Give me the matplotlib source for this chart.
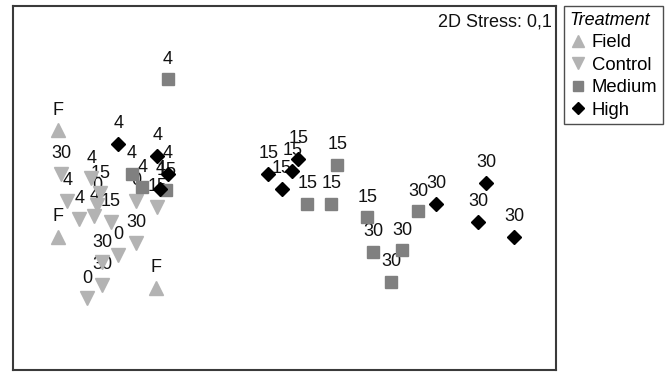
#!/usr/bin/env python3
# -*- coding: utf-8 -*-
"""
NMDS ordination of samples by treatment, labelled by sampling day.
"""

import matplotlib
matplotlib.use('Agg')
import matplotlib.pyplot as plt
from matplotlib.lines import Line2D

plt.rcParams['font.family'] = ['Liberation Sans', 'DejaVu Sans']

# NMDS scores per treatment, with the sampling day as point label
field_x = [-1.51, -1.51, -0.86]
field_y = [0.40, -0.31, -0.65]
field_lab = ['F', 'F', 'F']

control_x = [-1.49, -1.45, -1.29, -1.23, -1.25, -1.37, -1.27, -1.16,
             -0.99, -0.85, -0.99, -1.11, -1.22, -1.22, -1.32]
control_y = [0.11, -0.07, 0.08, -0.02, -0.10, -0.19, -0.17, -0.21,
             -0.07, -0.11, -0.35, -0.43, -0.48, -0.63, -0.72]
control_lab = ['30', '4', '4', '15', '0', '4', '4', '15',
               '0', '15', '30', '0', '30', '30', '0']

medium_x = [-0.78, -1.02, -0.95, -0.79, 0.35, 0.15, 0.31, 0.55,
            0.59, 0.78, 0.89, 0.71]
medium_y = [0.74, 0.11, 0.02, 0.00, 0.17, -0.09, -0.09, -0.18,
            -0.41, -0.40, -0.14, -0.61]
medium_lab = ['4', '4', '4', '15', '15', '15', '15', '15',
              '30', '30', '30', '30']

high_x = [-1.11, -0.85, -0.78, -0.83, -0.11, 0.09, 0.05, -0.02,
          1.01, 1.34, 1.29, 1.53]
high_y = [0.31, 0.23, 0.11, 0.01, 0.11, 0.21, 0.13, 0.01,
          -0.09, 0.05, -0.21, -0.31]
high_lab = ['4', '4', '4', '4', '15', '15', '15', '15',
            '30', '30', '30', '30']

stress = '0,1'

groups = [
    ('Field', field_x, field_y, field_lab, '^', '#b3b3b3', 10),
    ('Control', control_x, control_y, control_lab, 'v', '#b3b3b3', 10),
    ('Medium', medium_x, medium_y, medium_lab, 's', '#808080', 8.5),
    ('High', high_x, high_y, high_lab, 'D', '#000000', 7),
]

fig = plt.figure(figsize=(6.70, 3.74), dpi=100)
ax = fig.add_axes([13 / 670, 4 / 374, 543 / 670, 364 / 374])

for name, xs, ys, labs, mk, col, ms in groups:
    ax.plot(xs, ys, linestyle='none', marker=mk, markersize=ms,
            markerfacecolor=col, markeredgecolor=col, zorder=3)
    for x, y, t in zip(xs, ys, labs):
        ax.annotate(t, (x, y), xytext=(0, 11), textcoords='offset points',
                    ha='center', va='baseline', fontsize=13, color='#111111',
                    zorder=2)

ax.set_xlim(-1.813, 1.807)
ax.set_ylim(-1.2, 1.227)
ax.set_xticks([])
ax.set_yticks([])
for sp in ax.spines.values():
    sp.set_color('#3a3a3a')
    sp.set_linewidth(1.5)

ax.text(0.9926, 0.955, '2D Stress: ' + stress, transform=ax.transAxes,
        ha='right', va='center', fontsize=13, color='#111111')

# legend box to the right of the plot
handles = [Line2D([], [], linestyle='none', marker=mk, markersize=ms * 0.9,
                  markerfacecolor=col, markeredgecolor=col)
           for name, xs, ys, labs, mk, col, ms in groups]
names = [g[0] for g in groups]
leg = fig.legend(handles, names, loc='upper left',
                 bbox_to_anchor=(564 / 670, 1 - 6 / 374),
                 bbox_transform=fig.transFigure, borderaxespad=0,
                 fontsize=13.3, title='Treatment', frameon=True,
                 fancybox=False, handlelength=0.9, handletextpad=0.3,
                 borderpad=0.3, labelspacing=0.3, alignment='left')
leg.get_title().set_fontstyle('italic')
leg.get_title().set_fontsize(13)
leg.get_frame().set_edgecolor('#222222')
leg.get_frame().set_linewidth(1.0)

fig.savefig('out.png', dpi=100)
